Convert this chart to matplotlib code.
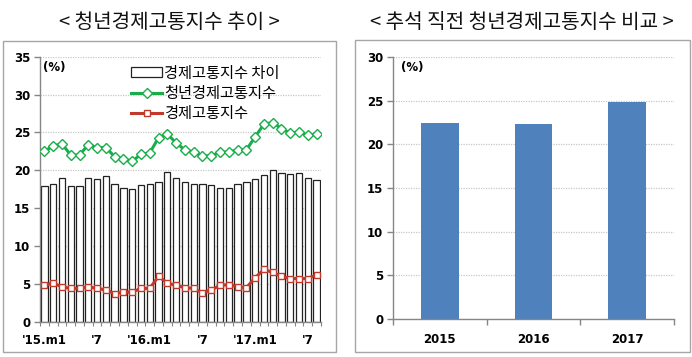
import matplotlib
matplotlib.use("Agg")
import matplotlib.pyplot as plt
from matplotlib.patches import Rectangle
import numpy as np

plt.rcParams['font.family'] = ['Noto Sans CJK KR', 'DejaVu Sans']

# ---- data ----
months = list(range(32))  # 2015.01 .. 2017.08
month_labels = {0: "'15.m1", 6: "'7", 12: "'16.m1", 18: "'7", 24: "'17.m1", 30: "'7"}
gap = [17.9, 18.2, 19.0, 17.9, 17.9, 19.0, 18.9, 19.2, 18.2, 17.7, 17.5, 18.0,
       18.2, 18.5, 19.8, 19.0, 18.4, 18.2, 18.2, 18.0, 17.7, 17.6, 18.2, 18.4,
       18.8, 19.4, 20.0, 19.6, 19.5, 19.6, 19.0, 18.7]
youth = [22.5, 23.2, 23.5, 22.0, 22.0, 23.4, 23.0, 23.0, 21.8, 21.5, 21.2, 22.1,
         22.3, 24.3, 24.8, 23.6, 22.7, 22.4, 21.9, 21.9, 22.4, 22.4, 22.7, 22.7,
         24.4, 26.1, 26.3, 25.5, 24.9, 25.1, 24.6, 24.8]
overall = [4.8, 5.1, 4.6, 4.4, 4.4, 4.6, 4.4, 4.2, 3.7, 3.9, 3.9, 4.4,
           4.4, 6.0, 5.1, 4.8, 4.5, 4.4, 3.8, 4.2, 4.8, 4.9, 4.6, 4.5,
           5.8, 6.9, 6.5, 6.0, 5.7, 5.7, 5.7, 6.2]
years = ['2015', '2016', '2017']
chuseok = [22.5, 22.3, 24.9]

GREEN = '#1AAE4A'
RED = '#C0392B'
BLUE = '#4F81BD'
GRID = '#C8C8C8'
AX = '#868686'

fig = plt.figure(figsize=(6.92, 3.57), dpi=100)

H, W = 357, 692
def box(x0, y0, x1, y1):
    fig.patches.append(Rectangle((x0 / W, 1 - y1 / H), (x1 - x0) / W, (y1 - y0) / H,
                                 transform=fig.transFigure, fill=False,
                                 edgecolor='#A6A6A6', linewidth=1.0))
box(3, 41, 336, 352)
box(355, 40, 690, 352)

fig.text(169 / W, 1 - 22 / H, '< 청년경제고통지수 추이 >', ha='center', va='center',
         fontsize=14.5, fontweight='medium', color='#111111')
fig.text(522 / W, 1 - 22 / H, '< 추석 직전 청년경제고통지수 비교 >', ha='center', va='center',
         fontsize=14.5, fontweight='medium', color='#111111')

def style(ax, ymax):
    for s in ['top', 'right']:
        ax.spines[s].set_visible(False)
    for s in ['left', 'bottom']:
        ax.spines[s].set_color(AX)
        ax.spines[s].set_linewidth(1.0)
    ax.set_ylim(0, ymax)
    ax.set_yticks(np.arange(0, ymax + 1, 5))
    ax.yaxis.grid(True, linestyle=(0, (1, 1)), color=GRID, linewidth=0.9)
    ax.set_axisbelow(True)
    ax.tick_params(axis='y', colors=AX, length=4, width=1, labelcolor='black', pad=3)
    for lab in ax.get_yticklabels():
        lab.set_fontfamily('DejaVu Sans')
        lab.set_fontweight('bold')
        lab.set_fontsize(8.5)

# ---- left chart ----
ax1 = fig.add_axes([40 / W, 1 - 321.7 / H, (321 - 40) / W, (321.7 - 56.7) / H])
hb = ax1.bar(months, gap, width=0.72, color='white', edgecolor='#222222', linewidth=0.9,
             label='경제고통지수 차이', zorder=2)
hg, = ax1.plot(months, youth, color=GREEN, linewidth=2.2, marker='D', markersize=5,
               markerfacecolor='white', markeredgecolor=GREEN, markeredgewidth=1.0,
               label='청년경제고통지수', zorder=3)
hr, = ax1.plot(months, overall, color=RED, linewidth=2.2, marker='s', markersize=4.6,
               markerfacecolor='white', markeredgecolor=RED, markeredgewidth=1.0,
               label='경제고통지수', zorder=3)
style(ax1, 35)
ax1.set_xlim(-0.5, len(months) - 0.5)
ax1.set_xticks(list(month_labels.keys()))
ax1.set_xticklabels(list(month_labels.values()), fontfamily='DejaVu Sans',
                    fontweight='bold', fontsize=8.5)
ax1.tick_params(axis='x', which='major', length=0, pad=9)
ax1.set_xticks(np.arange(-0.5, len(months), 1), minor=True)
ax1.tick_params(axis='x', which='minor', length=3, color=AX, width=0.8)
ax1.text(0.01, 0.985, '(%)', transform=ax1.transAxes, ha='left', va='top',
         fontsize=8.5, fontweight='bold', fontfamily='DejaVu Sans')
ax1.legend(handles=[hb, hg, hr], loc='upper left', bbox_to_anchor=(0.325, 0.97),
           frameon=False, fontsize=11, handlelength=2.0, handletextpad=0.15,
           labelspacing=0.22, borderaxespad=0.0, handleheight=0.6, borderpad=0.0)

# ---- right chart ----
ax2 = fig.add_axes([393 / W, 1 - 319 / H, (674 - 393) / W, (319 - 57) / H])
xpos = np.arange(len(years))
ax2.bar(xpos, chuseok, width=0.4, color=BLUE, zorder=2)
style(ax2, 30)
ax2.set_xlim(-0.5, len(years) - 0.5)
ax2.set_xticks(xpos)
ax2.set_xticklabels(years, fontfamily='DejaVu Sans', fontweight='bold', fontsize=8.5)
ax2.tick_params(axis='x', which='major', length=0, pad=10)
ax2.set_xticks(np.arange(-0.5, len(years), 1), minor=True)
ax2.tick_params(axis='x', which='minor', length=4, color=AX, width=1)
ax2.text(0.03, 0.985, '(%)', transform=ax2.transAxes, ha='left', va='top',
         fontsize=8.5, fontweight='bold', fontfamily='DejaVu Sans')

fig.savefig('out.png', dpi=100)
